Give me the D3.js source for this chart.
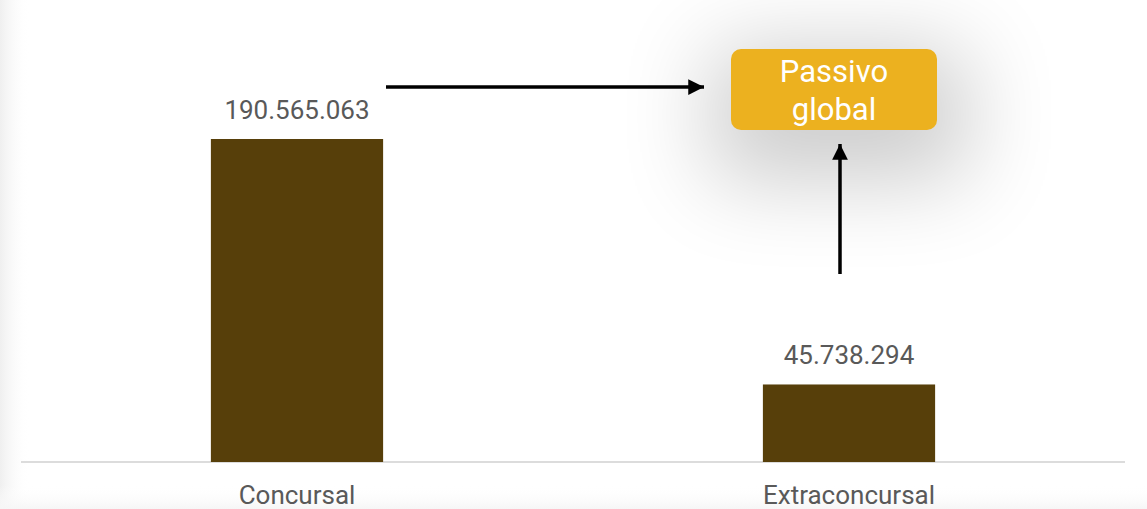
<!DOCTYPE html>
<html>
<head>
<meta charset="utf-8">
<script src="https://cdn.jsdelivr.net/npm/d3@7"></script>
<style>
  html, body { margin: 0; padding: 0; background: #fff; }
  svg { display: block; font-family: Roboto, "Noto Sans", sans-serif; }
</style>
</head>
<body>
<div class="chart"></div>
<script>
// data
var categories = ["Concursal", "Extraconcursal"];
var values = [190565063, 45738294];
var valueLabels = ["190.565.063", "45.738.294"];
var boxLines = ["Passivo", "global"];

var width = 1147;
var height = 509;

var svg = d3.select(".chart").append("svg")
  .attr("width", width)
  .attr("height", height);

var defs = svg.append("defs");

// soft edge shading on the left side
var edge = defs.append("linearGradient").attr("id", "edgeGrad")
  .attr("x1", 0).attr("x2", 1).attr("y1", 0).attr("y2", 0);
edge.append("stop").attr("offset", "0%").attr("stop-color", "#efefef");
edge.append("stop").attr("offset", "100%").attr("stop-color", "#ffffff").attr("stop-opacity", 0);

var bottomEdge = defs.append("linearGradient").attr("id", "bottomGrad")
  .attr("x1", 0).attr("x2", 0).attr("y1", 0).attr("y2", 1);
bottomEdge.append("stop").attr("offset", "0%").attr("stop-color", "#ffffff").attr("stop-opacity", 0);
bottomEdge.append("stop").attr("offset", "100%").attr("stop-color", "#f6f6f6");

var blur = defs.append("filter").attr("id", "shadow")
  .attr("x", "-100%").attr("y", "-100%").attr("width", "300%").attr("height", "300%");
blur.append("feGaussianBlur").attr("stdDeviation", 45);

var marker = defs.append("marker").attr("id", "arrow")
  .attr("viewBox", "0 0 10 10")
  .attr("refX", 10).attr("refY", 5)
  .attr("markerWidth", 4.5).attr("markerHeight", 4.5)
  .attr("markerUnits", "strokeWidth")
  .attr("orient", "auto");
marker.append("path").attr("d", "M0,0 L10,5 L0,10 z").attr("fill", "#000");

svg.append("rect").attr("x", 0).attr("y", 0).attr("width", 30).attr("height", height)
  .attr("fill", "url(#edgeGrad)");
svg.append("rect").attr("x", 0).attr("y", 485).attr("width", width).attr("height", 24)
  .attr("fill", "url(#bottomGrad)");

// scales
var x = d3.scaleBand()
  .domain(categories)
  .range([21, 1125])
  .paddingInner(0.688)
  .paddingOuter(0.344);

var y = d3.scaleLinear()
  .domain([0, 190565063])
  .range([462, 139]);

// baseline
svg.append("line")
  .attr("x1", 21).attr("x2", 1125)
  .attr("y1", y(0)).attr("y2", y(0))
  .attr("stroke", "#dcdcdc").attr("stroke-width", 2);

// bars
svg.selectAll(".bar")
  .data(values)
  .enter().append("rect")
  .attr("class", "bar")
  .attr("x", function(d, i) { return x(categories[i]); })
  .attr("y", function(d) { return y(d); })
  .attr("width", x.bandwidth())
  .attr("height", function(d) { return y(0) - y(d); })
  .attr("fill", "#573f0a");

// value labels
svg.selectAll(".vlabel")
  .data(values)
  .enter().append("text")
  .attr("class", "vlabel")
  .attr("x", function(d, i) { return x(categories[i]) + x.bandwidth() / 2; })
  .attr("y", function(d) { return y(d) - 20; })
  .attr("text-anchor", "middle")
  .attr("font-size", 26)
  .attr("fill", "#595959")
  .text(function(d, i) { return valueLabels[i]; });

// category labels
svg.selectAll(".clabel")
  .data(categories)
  .enter().append("text")
  .attr("class", "clabel")
  .attr("x", function(d) { return x(d) + x.bandwidth() / 2; })
  .attr("y", 504)
  .attr("text-anchor", "middle")
  .attr("font-size", 26)
  .attr("fill", "#595959")
  .text(function(d) { return d; });

// callout box with shadow
var box = { x: 731, y: 49, w: 206, h: 81 };
svg.append("rect")
  .attr("x", box.x - 20).attr("y", box.y)
  .attr("width", box.w + 50).attr("height", box.h + 50)
  .attr("fill", "#000").attr("opacity", 0.2)
  .attr("filter", "url(#shadow)");
svg.append("rect")
  .attr("x", box.x).attr("y", box.y)
  .attr("width", box.w).attr("height", box.h)
  .attr("rx", 10).attr("ry", 10)
  .attr("fill", "#ecb11f");
svg.selectAll(".blabel")
  .data(boxLines)
  .enter().append("text")
  .attr("class", "blabel")
  .attr("x", box.x + box.w / 2)
  .attr("y", function(d, i) { return 82 + i * 38; })
  .attr("text-anchor", "middle")
  .attr("font-size", 31)
  .attr("fill", "#fff")
  .text(function(d) { return d; });

// arrows
svg.append("line")
  .attr("x1", 386).attr("y1", 87).attr("x2", 704).attr("y2", 87)
  .attr("stroke", "#000").attr("stroke-width", 3.5)
  .attr("marker-end", "url(#arrow)");
svg.append("line")
  .attr("x1", 840).attr("y1", 274).attr("x2", 840).attr("y2", 144)
  .attr("stroke", "#000").attr("stroke-width", 3.5)
  .attr("marker-end", "url(#arrow)");
</script>
</body>
</html>
